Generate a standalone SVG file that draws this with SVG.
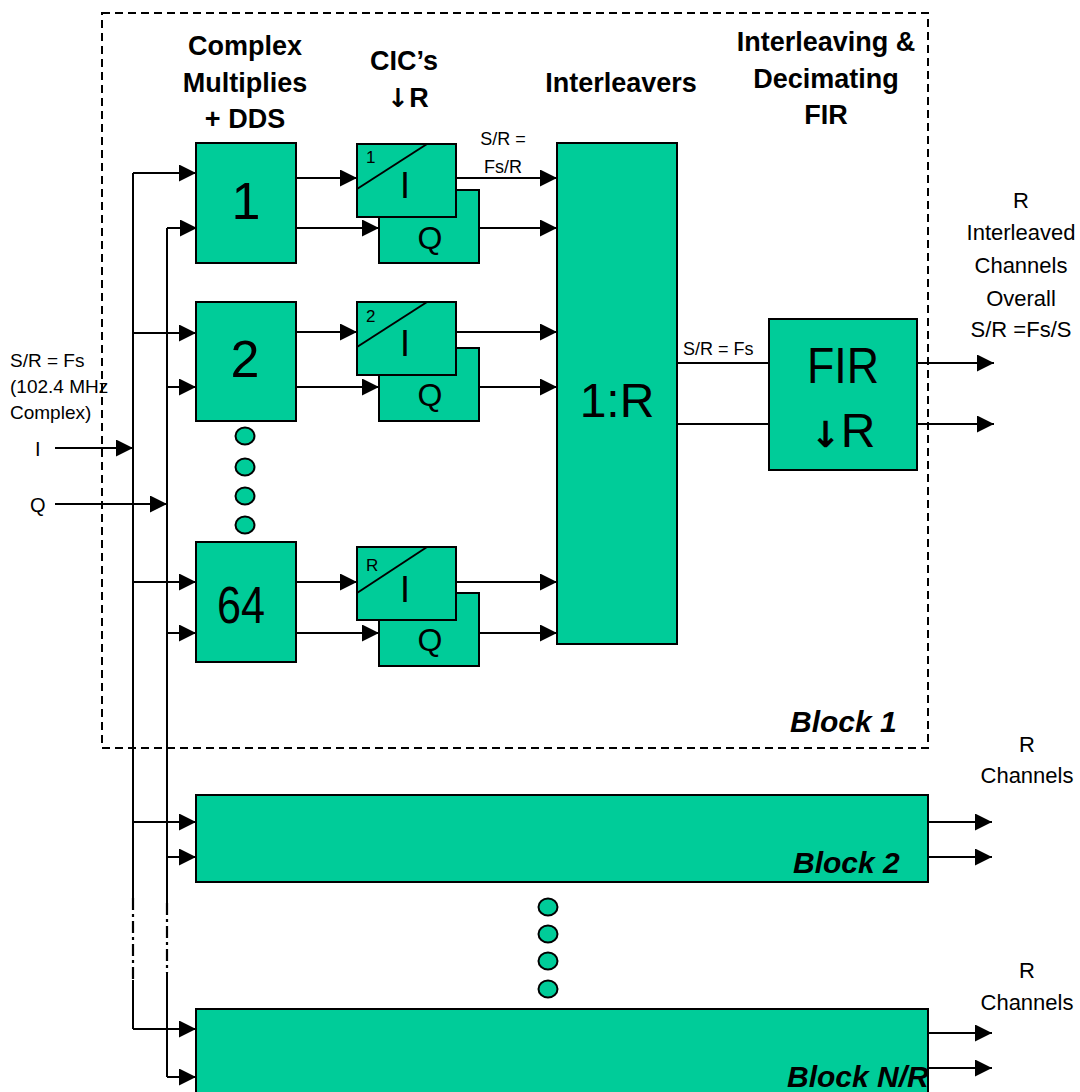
<svg xmlns="http://www.w3.org/2000/svg" width="1080" height="1092" viewBox="0 0 1080 1092">
<defs>
<marker id="ah" markerUnits="userSpaceOnUse" markerWidth="17" markerHeight="17" viewBox="0 0 17 17" refX="17" refY="8.5" orient="auto">
<path d="M0,0 L17,8.5 L0,17 Z" fill="#000"/>
</marker>
<style>
.box{fill:#00CC99;stroke:#000;stroke-width:2}
.ln{fill:none;stroke:#000;stroke-width:2}
.ar{fill:none;stroke:#000;stroke-width:2;marker-end:url(#ah)}
.dd{fill:none;stroke:#000;stroke-width:2.2;stroke-dasharray:12,4,3,4}
.t{font-family:"Liberation Sans",Arial,sans-serif;fill:#000}
.h{font-family:"Liberation Sans",Arial,sans-serif;font-weight:bold;font-size:27px;text-anchor:middle;fill:#000}
.bi{font-family:"Liberation Sans",Arial,sans-serif;font-weight:bold;font-style:italic;font-size:30px;fill:#000}
.dot{fill:#00CC99;stroke:#000;stroke-width:2}
</style>
</defs>
<rect width="1080" height="1092" fill="#fff"/>

<g id="block1-frame">
<rect x="102" y="13" width="826" height="735" fill="none" stroke="#000" stroke-width="2" stroke-dasharray="8,5"/>
<text class="bi" x="790" y="732">Block 1</text>
</g>

<g id="headers">
<text class="h"><tspan x="245" y="55">Complex</tspan><tspan x="245" y="92">Multiplies</tspan><tspan x="245" y="128">+ DDS</tspan></text>
<text class="h" x="404" y="70">CIC’s</text>
<text class="h" x="408" y="107"><tspan font-family="DejaVu Sans" font-size="26">↓</tspan>R</text>
<text class="h" x="621" y="92">Interleavers</text>
<text class="h"><tspan x="826" y="51">Interleaving &amp;</tspan><tspan x="826" y="88">Decimating</tspan><tspan x="826" y="124">FIR</tspan></text>
</g>

<g id="input-labels">
<text class="t" font-size="19"><tspan x="10" y="367">S/R = Fs</tspan><tspan x="10" y="393">(102.4 MHz</tspan><tspan x="10" y="419">Complex)</tspan></text>
<text class="t" font-size="20" x="35" y="456">I</text>
<text class="t" font-size="20" x="30" y="512">Q</text>
</g>

<g id="connectors">
<path class="ln" d="M133,173 V898 M133,980 V1029"/>
<path class="dd" d="M133,898 V980"/>
<path class="ln" d="M167,228 V903 M167,973 V1077"/>
<path class="dd" d="M167,903 V973"/>
<path class="ar" d="M55,448 H133"/>
<path class="ar" d="M55,504 H167"/>
<path class="ar" d="M133,173 H196"/>
<path class="ar" d="M167,228 H197"/>
<path class="ar" d="M133,333 H196"/>
<path class="ar" d="M167,387 H196"/>
<path class="ar" d="M133,582 H196"/>
<path class="ar" d="M167,633 H196"/>
<path class="ar" d="M133,822 H196"/>
<path class="ar" d="M167,857 H196"/>
<path class="ar" d="M133,1029 H196"/>
<path class="ar" d="M167,1077 H196"/>
<path class="ar" d="M296,178 H357"/>
<path class="ar" d="M296,228 H379"/>
<path class="ar" d="M296,332 H357"/>
<path class="ar" d="M296,387 H379"/>
<path class="ar" d="M296,582 H357"/>
<path class="ar" d="M296,633 H379"/>
<path class="ar" d="M456,178 H557"/>
<path class="ar" d="M479,228 H557"/>
<path class="ar" d="M453,332 H557"/>
<path class="ar" d="M479,387 H557"/>
<path class="ar" d="M456,582 H557"/>
<path class="ar" d="M479,633 H557"/>
<path class="ln" d="M677,363 H769"/>
<path class="ln" d="M677,424 H769"/>
<path class="ar" d="M917,363 H994"/>
<path class="ar" d="M917,424 H994"/>
<path class="ar" d="M928,822 H992"/>
<path class="ar" d="M928,857 H992"/>
<path class="ar" d="M928,1033 H992"/>
<path class="ar" d="M928,1068 H992"/>
</g>

<g id="mult-1">
<rect class="box" x="196" y="143" width="100" height="120"/>
<text class="t" font-size="52" x="246" y="219" text-anchor="middle">1</text>
</g>
<g id="mult-2">
<rect class="box" x="196" y="302" width="100" height="119"/>
<text class="t" font-size="52" x="245" y="377" text-anchor="middle">2</text>
</g>
<g id="dots-1">
<ellipse class="dot" cx="245" cy="436" rx="9.5" ry="8.5"/>
<ellipse class="dot" cx="245" cy="467" rx="9.5" ry="8.5"/>
<ellipse class="dot" cx="245" cy="496" rx="9.5" ry="8.5"/>
<ellipse class="dot" cx="245" cy="525" rx="9.5" ry="8.5"/>
</g>
<g id="mult-64">
<rect class="box" x="196" y="542" width="100" height="120"/>
<text class="t" font-size="52" x="241" y="623" text-anchor="middle" textLength="48" lengthAdjust="spacingAndGlyphs">64</text>
</g>

<g id="cic-1">
<rect class="box" x="379" y="190" width="100" height="73"/>
<text class="t" font-size="32" x="430" y="249" text-anchor="middle">Q</text>
<rect class="box" x="357" y="144" width="99" height="73"/>
<path class="ln" d="M357,189 L427,144"/>
<text class="t" font-size="17" x="366" y="163">1</text>
<text class="t" font-size="36" x="405" y="198" text-anchor="middle">I</text>
</g>
<g id="cic-2">
<rect class="box" x="379" y="348" width="100" height="73"/>
<text class="t" font-size="32" x="430" y="406" text-anchor="middle">Q</text>
<rect class="box" x="357" y="302" width="99" height="73"/>
<path class="ln" d="M357,347 L427,302"/>
<text class="t" font-size="17" x="366" y="322">2</text>
<text class="t" font-size="36" x="405" y="356" text-anchor="middle">I</text>
</g>
<g id="cic-R">
<rect class="box" x="379" y="593" width="100" height="73"/>
<text class="t" font-size="32" x="430" y="651" text-anchor="middle">Q</text>
<rect class="box" x="357" y="547" width="99" height="73"/>
<path class="ln" d="M357,593 L427,547"/>
<text class="t" font-size="17" x="366" y="571">R</text>
<text class="t" font-size="36" x="405" y="602" text-anchor="middle">I</text>
</g>
<text class="t" font-size="18" text-anchor="middle"><tspan x="503" y="145">S/R =</tspan><tspan x="503" y="173">Fs/R</tspan></text>

<g id="interleaver">
<rect class="box" x="557" y="143" width="120" height="501"/>
<text class="t" font-size="48" x="617" y="417" text-anchor="middle">1:R</text>
</g>
<text class="t" font-size="18" x="683" y="355">S/R = Fs</text>

<g id="fir">
<rect class="box" x="769" y="319" width="148" height="151"/>
<text class="t" font-size="50" x="843" y="383" text-anchor="middle" textLength="72" lengthAdjust="spacingAndGlyphs">FIR</text>
<text class="t" font-size="48" x="843" y="447" text-anchor="middle"><tspan font-family="DejaVu Sans" font-weight="bold" font-size="36">↓</tspan>R</text>
</g>

<g id="out-labels-1">
<text class="t" font-size="22" text-anchor="middle"><tspan x="1021" y="208">R</tspan><tspan x="1021" y="240">Interleaved</tspan><tspan x="1021" y="273">Channels</tspan><tspan x="1021" y="306">Overall</tspan><tspan x="1021" y="337">S/R =Fs/S</tspan></text>
</g>

<g id="block-2">
<rect class="box" x="196" y="795" width="732" height="87"/>
<text class="bi" x="793" y="873">Block 2</text>
</g>
<text class="t" font-size="22" text-anchor="middle"><tspan x="1027" y="752">R</tspan><tspan x="1027" y="783">Channels</tspan></text>

<g id="dots-2">
<ellipse class="dot" cx="548" cy="907" rx="9.5" ry="8.5"/>
<ellipse class="dot" cx="548" cy="934" rx="9.5" ry="8.5"/>
<ellipse class="dot" cx="548" cy="961" rx="9.5" ry="8.5"/>
<ellipse class="dot" cx="548" cy="989" rx="9.5" ry="8.5"/>
</g>

<g id="block-NR">
<rect class="box" x="196" y="1009" width="732" height="100"/>
<text class="bi" x="787" y="1087">Block N/R</text>
</g>
<text class="t" font-size="22" text-anchor="middle"><tspan x="1027" y="978">R</tspan><tspan x="1027" y="1010">Channels</tspan></text>
</svg>
